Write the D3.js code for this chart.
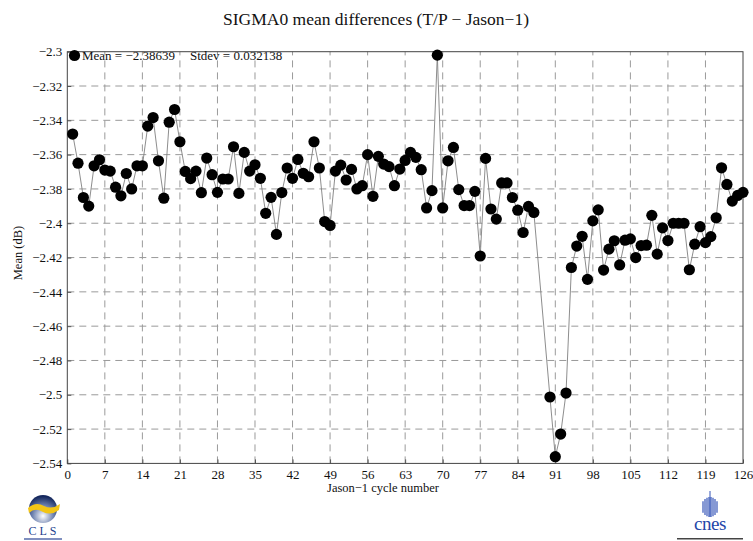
<!DOCTYPE html>
<html>
<head>
<meta charset="utf-8">
<script src="https://cdn.jsdelivr.net/npm/d3@7"></script>
<style>
  html, body { margin: 0; padding: 0; background: #fff; }
  svg { display: block; }
  text { font-family: "Liberation Serif", "DejaVu Serif", serif; }
</style>
</head>
<body>
<svg id="chart" width="753" height="541"></svg>
<script>
// ---- data ----
const cycles = [
  1,2,3,4,5,6,7,8,9,10,11,12,13,14,15,16,17,18,19,20,
  21,22,23,24,25,26,27,28,29,30,31,32,33,34,35,36,37,38,39,40,
  41,42,43,44,45,46,47,48,49,50,51,52,53,54,55,56,57,58,59,60,
  61,62,63,64,65,66,67,68,69,70,71,72,73,74,75,76,77,78,79,80,
  81,82,83,84,85,86,87,90,91,92,93,94,95,96,97,98,99,100,
  101,102,103,104,105,106,107,108,109,110,111,112,113,114,115,116,117,118,119,120,
  121,122,123,124,125,126
];
const meanValues = [
  -2.348,-2.365,-2.385,-2.390,-2.3665,-2.363,-2.369,-2.3696,-2.379,-2.384,
  -2.371,-2.380,-2.3665,-2.3665,-2.3434,-2.3384,-2.3636,-2.3854,-2.3411,-2.3337,
  -2.3525,-2.3698,-2.374,-2.3696,-2.3822,-2.362,-2.3717,-2.382,-2.3742,-2.3742,
  -2.3554,-2.3826,-2.3587,-2.3696,-2.3659,-2.3738,-2.3942,-2.3849,-2.4065,-2.3821,
  -2.3678,-2.3738,-2.3628,-2.3709,-2.3729,-2.3525,-2.3678,-2.399,-2.4013,-2.3696,
  -2.3661,-2.3748,-2.3686,-2.380,-2.3781,-2.360,-2.3843,-2.361,-2.3655,-2.367,
  -2.3781,-2.3684,-2.3634,-2.3587,-2.3616,-2.3688,-2.3911,-2.381,-2.302,-2.3911,
  -2.3636,-2.3558,-2.3804,-2.3897,-2.3897,-2.3814,-2.4191,-2.3622,-2.3917,-2.3976,
  -2.3765,-2.3765,-2.385,-2.3924,-2.4054,-2.3902,-2.3937,-2.5013,-2.5361,-2.5229,
  -2.499,-2.4258,-2.4133,-2.4076,-2.4327,-2.3986,-2.3922,-2.4273,-2.4151,-2.4102,
  -2.4243,-2.4099,-2.4091,-2.420,-2.413,-2.4128,-2.3954,-2.418,-2.4027,-2.4101,
  -2.400,-2.400,-2.400,-2.4271,-2.4122,-2.402,-2.4113,-2.4078,-2.3968,-2.3677,
  -2.3774,-2.3871,-2.3838,-2.382
];
const xTicks = [0,7,14,21,28,35,42,49,56,63,70,77,84,91,98,105,112,119,126];
const yTicks = [-2.3,-2.32,-2.34,-2.36,-2.38,-2.4,-2.42,-2.44,-2.46,-2.48,-2.5,-2.52,-2.54];
const titleText = "SIGMA0 mean differences (T/P \u2212 Jason\u22121)";
const xLabel = "Jason\u22121 cycle number";
const yLabel = "Mean (dB)";
const legendMean = "Mean = \u22122.38639";
const legendStdev = "Stdev = 0.032138";

// ---- chart ----
const svg = d3.select("#chart");
const L = 67.3, R = 743, T = 51.7, B = 463.4;
const x = d3.scaleLinear().domain([0, 126]).range([L, R]);
const y = d3.scaleLinear().domain([-2.54, -2.3]).range([B, T]);
const fmt = d => String(+d.toFixed(2)).replace("-", "\u2212");

// grid
const grid = svg.append("g").attr("stroke", "#9a9a9a").attr("stroke-width", 1)
  .attr("stroke-dasharray", "7,5").attr("fill", "none");
grid.selectAll("line.v").data(xTicks.slice(1, -1)).join("line")
  .attr("x1", d => x(d)).attr("x2", d => x(d)).attr("y1", B).attr("y2", T);
grid.selectAll("line.h").data(yTicks.slice(1, -1)).join("line")
  .attr("x1", L).attr("x2", R).attr("y1", d => y(d)).attr("y2", d => y(d));

// axes
const xAxis = d3.axisBottom(x).tickValues(xTicks).tickFormat(d => d).tickSize(-4).tickPadding(6);
const yAxis = d3.axisLeft(y).tickValues(yTicks).tickFormat(fmt).tickSize(-4).tickPadding(5);
const gx = svg.append("g").attr("transform", `translate(0,${B})`).call(xAxis);
const gy = svg.append("g").attr("transform", `translate(${L},0)`).call(yAxis);
[gx, gy].forEach(g => {
  g.select(".domain").remove();
  g.selectAll(".tick line").attr("stroke", "#555");
  g.selectAll(".tick text").attr("font-family", "Liberation Serif, serif")
    .attr("font-size", 13).attr("fill", "#111");
});
// frame
svg.append("rect").attr("x", L).attr("y", T).attr("width", R - L).attr("height", B - T)
  .attr("fill", "none").attr("stroke", "#444").attr("stroke-width", 1);

// data line & markers
const pts = cycles.map((c, i) => ({ c, v: meanValues[i] }));
svg.append("path").datum(pts)
  .attr("d", d3.line().x(d => x(d.c)).y(d => y(d.v)))
  .attr("fill", "none").attr("stroke", "#808080").attr("stroke-width", 0.9);
svg.append("g").selectAll("circle").data(pts).join("circle")
  .attr("cx", d => x(d.c)).attr("cy", d => y(d.v)).attr("r", 5.6).attr("fill", "#000");

// legend
svg.append("circle").attr("cx", 74.5).attr("cy", 55.5).attr("r", 5.6).attr("fill", "#000");
svg.append("text").attr("x", 82).attr("y", 60).attr("font-size", 13).attr("fill", "#111").text(legendMean);
svg.append("text").attr("x", 190).attr("y", 60).attr("font-size", 13).attr("fill", "#111").text(legendStdev);

// title and labels
svg.append("text").attr("x", 376).attr("y", 25).attr("text-anchor", "middle")
  .attr("font-size", 17.5).attr("fill", "#111").text(titleText);
svg.append("text").attr("x", 383).attr("y", 492).attr("text-anchor", "middle")
  .attr("font-size", 12.5).attr("fill", "#111").text(xLabel);
svg.append("text").attr("transform", "translate(22,253) rotate(-90)").attr("text-anchor", "middle")
  .attr("font-size", 12.5).attr("fill", "#111").text(yLabel);

// ---- logos (simplified) ----
const defs = svg.append("defs");
const rg = defs.append("radialGradient").attr("id", "globe").attr("cx", "50%").attr("cy", "75%").attr("r", "70%");
rg.append("stop").attr("offset", "0%").attr("stop-color", "#ffffff");
rg.append("stop").attr("offset", "55%").attr("stop-color", "#6b7fae");
rg.append("stop").attr("offset", "100%").attr("stop-color", "#15285e");
const cls = svg.append("g");
cls.append("circle").attr("cx", 43).attr("cy", 509).attr("r", 14).attr("fill", "url(#globe)");
cls.append("path").attr("d", "M28,508 Q36,501 44,506 Q52,510 60,504 L59,510 Q51,516 43,512 Q35,507 29,513 Z")
  .attr("fill", "#f3c515");
cls.append("text").attr("x", 44).attr("y", 535).attr("text-anchor", "middle")
  .attr("font-family", "DejaVu Sans, sans-serif").attr("font-size", 12).attr("letter-spacing", 3)
  .attr("fill", "#1f3f8f").text("CLS");
cls.append("rect").attr("x", 24).attr("y", 538).attr("width", 38).attr("height", 2).attr("fill", "#7f8fbf");

const cnes = svg.append("g");
const stripes = [-7,-5,-3,-1,1,3,5,7];
cnes.selectAll("line.s").data(stripes).join("line")
  .attr("x1", d => 710 + d).attr("x2", d => 710 + d)
  .attr("y1", d => 507 - 10 * Math.sqrt(Math.max(0, 1 - (d / 8.5) ** 2)))
  .attr("y2", d => 507 + 10 * Math.sqrt(Math.max(0, 1 - (d / 8.5) ** 2)))
  .attr("stroke", "#3454b8").attr("stroke-width", 1.2);
cnes.append("line").attr("x1", 710).attr("x2", 710).attr("y1", 491).attr("y2", 517)
  .attr("stroke", "#3454b8").attr("stroke-width", 1);
cnes.append("text").attr("x", 710).attr("y", 530).attr("text-anchor", "middle")
  .attr("font-family", "DejaVu Sans, sans-serif").attr("font-size", 19).attr("letter-spacing", -0.5)
  .attr("fill", "#2446a8").text("cnes");
cnes.append("rect").attr("x", 677).attr("y", 538).attr("width", 66).attr("height", 1.5).attr("fill", "#444");
</script>
</body>
</html>
